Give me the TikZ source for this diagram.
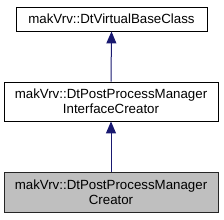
\documentclass[tikz,border=0pt]{standalone}
\usepackage{fontspec}
\setmainfont{Liberation Sans}
\usetikzlibrary{arrows.meta}
\definecolor{edgeblue}{HTML}{191970}
\definecolor{grey75}{HTML}{BFBFBF}
\begin{document}
\begin{tikzpicture}[x=1pt,y=-1pt,
  cls/.style={draw=black, line width=0.9pt, fill=white, inner sep=0pt, align=center,
    font=\fontsize{13.3}{15}\selectfont},
  cur/.style={cls, fill=grey75, draw=black!85},
  inh/.style={draw=edgeblue, line width=1pt, -{Triangle[length=12pt,width=10pt]}}]
\useasboundingbox (0,0) rectangle (224,219);
\node[cls, minimum width=191pt, minimum height=24pt] (base) at (111.5,19) {makVrv::DtVirtualBaseClass};
\node[cls, minimum width=214pt, minimum height=39pt] (iface) at (111,101.5) {makVrv::DtPostProcessManager\\InterfaceCreator};
\node[cur, minimum width=214pt, minimum height=40pt] (creator) at (111,192) {makVrv::DtPostProcessManager\\Creator};
\draw[inh] (iface.north) -- (base.south);
\draw[inh] (creator.north) -- (iface.south);
\end{tikzpicture}
\end{document}
